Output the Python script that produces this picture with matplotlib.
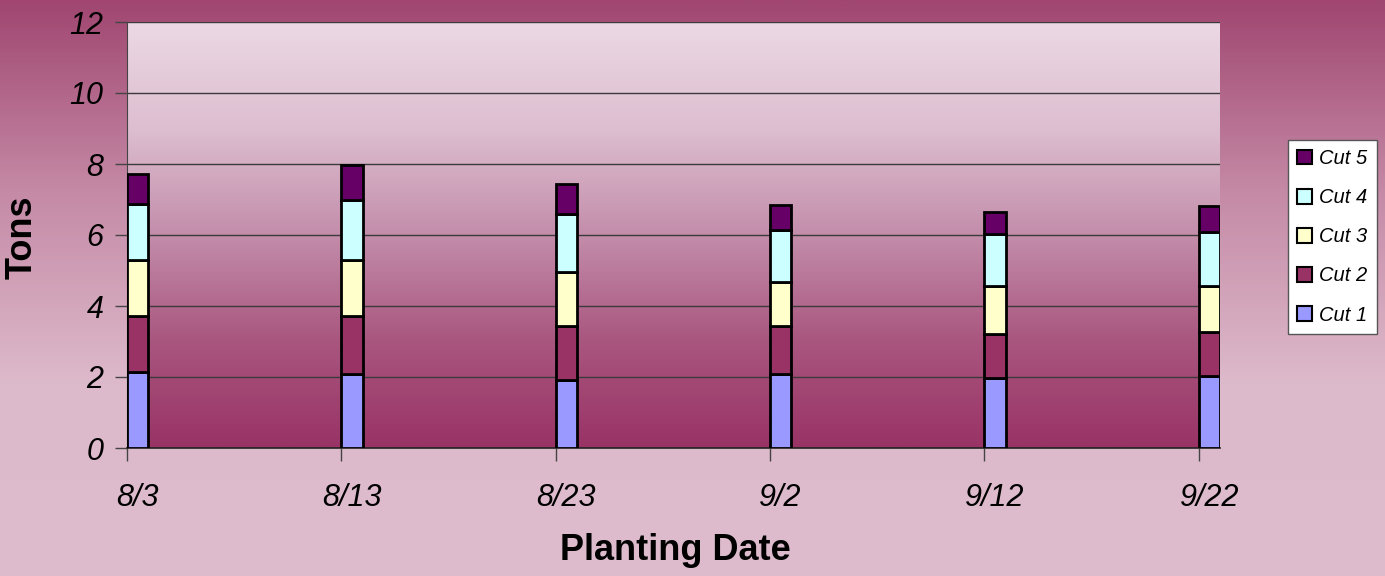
import numpy as np
import matplotlib
matplotlib.use("Agg")
import matplotlib.pyplot as plt
from matplotlib.colors import LinearSegmentedColormap

dates = ["8/3", "8/13", "8/23", "9/2", "9/12", "9/22"]
day_offsets = [0, 10, 20, 30, 40, 50]
cut1 = [2.15, 2.08, 1.91, 2.09, 1.97, 2.03]
cut2 = [1.58, 1.65, 1.53, 1.35, 1.24, 1.24]
cut3 = [1.57, 1.57, 1.53, 1.24, 1.36, 1.30]
cut4 = [1.58, 1.70, 1.63, 1.47, 1.47, 1.52]
cut5 = [0.85, 0.97, 0.85, 0.69, 0.62, 0.74]
series = [("Cut 1", cut1, "#9999FF"), ("Cut 2", cut2, "#993366"),
          ("Cut 3", cut3, "#FFFFCC"), ("Cut 4", cut4, "#CCFFFF"),
          ("Cut 5", cut5, "#660066")]
yticks = [0, 2, 4, 6, 8, 10, 12]

plt.rcParams['font.family'] = ['Liberation Sans', 'DejaVu Sans']

fig = plt.figure(figsize=(13.85, 5.76), dpi=100)

# figure background gradient
bg = fig.add_axes([0, 0, 1, 1], zorder=-10)
bg.set_axis_off()
cm_fig = LinearSegmentedColormap.from_list("figbg", ["#A04670", "#C58AA6", "#DDBACB", "#DEBCCD"])
bg.imshow(np.linspace(0, 1, 256).reshape(-1, 1), aspect='auto', cmap=cm_fig,
          extent=[0, 1, 0, 1], origin='upper')
bg.set_xlim(0, 1); bg.set_ylim(0, 1)

ax = fig.add_axes([127/1385, 1 - 448/576, (1220-127)/1385, (448-22)/576])
ax.patch.set_alpha(0)
cm_ax = LinearSegmentedColormap.from_list("axbg", ["#ECD8E4", "#DDBED0", "#C38DAA", "#A9567F", "#993366"])
ax.imshow(np.linspace(0, 1, 256).reshape(-1, 1), aspect='auto', cmap=cm_ax,
          extent=[0, 51, 0, 12], origin='upper', zorder=0)

bottom = np.zeros(len(dates))
handles = []
for name, vals, col in series:
    h = ax.bar(day_offsets, vals, width=1.0, bottom=bottom, align='edge',
               color=col, edgecolor='black', linewidth=2, label=name, zorder=3)
    handles.append(h)
    bottom = bottom + np.array(vals)

ax.set_xlim(0, 51)
ax.set_ylim(0, 12)
ax.set_yticks(yticks)
ax.set_yticklabels([str(t) for t in yticks], fontsize=22, fontstyle='italic')
ax.yaxis.grid(True, color='#3a3a3a', linewidth=1.0, zorder=1)
ax.set_axisbelow(True)
ax.tick_params(axis='y', length=9, width=1, color='#444444', pad=8)

ax.set_xticks(day_offsets)
ax.set_xticklabels([])
ax.set_xticks([d + 0.5 for d in day_offsets], minor=True)
ax.set_xticklabels(dates, minor=True, fontsize=22, fontstyle='italic')
ax.tick_params(axis='x', which='major', length=9, width=1, color='#444444')
ax.tick_params(axis='x', which='minor', length=0, pad=25)

for s in ['top', 'right']:
    ax.spines[s].set_visible(False)
ax.spines['left'].set_color('#444444')
ax.spines['bottom'].set_color('#222222')
ax.spines['bottom'].set_linewidth(1.2)

fig.text(22/1385, 1 - 237/576, "Tons", rotation=90, fontsize=26, fontweight='bold',
         ha='center', va='center')
fig.text(675/1385, 1 - 551/576, "Planting Date", fontsize=26, fontweight='bold',
         ha='center', va='center')

leg = fig.legend(handles[::-1], [s[0] for s in series][::-1],
                 loc='upper left', bbox_to_anchor=(1288/1385, 1 - 140/576),
                 bbox_transform=fig.transFigure, frameon=True, fancybox=False,
                 prop={'size': 14.5, 'style': 'italic'}, labelspacing=1.0,
                 handlelength=0.75, handleheight=0.75, handletextpad=0.35,
                 borderpad=0.45, borderaxespad=0)
leg.get_frame().set_facecolor('white')
leg.get_frame().set_edgecolor('#555555')
leg.get_frame().set_alpha(1)
for p in leg.get_patches():
    p.set_linewidth(1.5)

fig.savefig("out.png", dpi=100)
